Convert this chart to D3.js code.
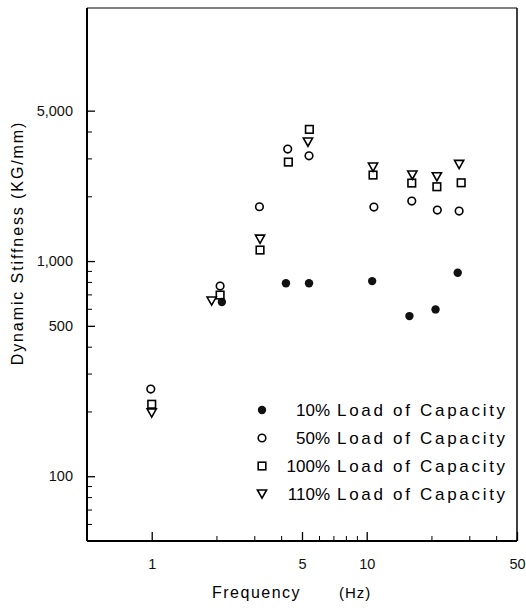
<!DOCTYPE html>
<html><head><meta charset="utf-8">
<script src="https://cdn.jsdelivr.net/npm/d3@7"></script>
<style>body{margin:0;background:#fff}svg{display:block}</style>
</head><body>
<script>
// ---- data ----
const seriesNames = ["10% Load of Capacity","50% Load of Capacity","100% Load of Capacity","110% Load of Capacity"];
const seriesPct = ["10%","50%","100%","110%"];
const seriesShapes = ["filled","circle","square","triangle"];
const load10  = [[2.12,645],[4.21,788],[5.39,788],[10.6,807],[15.8,555],[20.9,596],[26.5,882]];
const load50  = [[0.99,254],[2.08,765],[3.17,1788],[4.29,3315],[5.39,3085],[10.8,1782],[16.2,1900],[21.3,1726],[26.9,1707]];
const load100 = [[1.0,216],[2.08,695],[3.19,1125],[4.32,2884],[5.41,4093],[10.7,2510],[16.2,2304],[21.2,2215],[27.5,2311]];
const load110 = [[1.0,197],[1.90,652],[3.19,1265],[5.33,3573],[10.7,2734],[16.3,2510],[21.2,2465],[26.9,2814]];
const xTickLabels = [1,5,10,50];
const yTickLabels = [100,500,1000,5000];
const xMinor = [2,3,4,6,7,8,9,20,30,40];
const yMinor = [60,70,80,90,200,300,400,600,700,800,900,2000,3000,4000];

const W=526,H=608;
const L=87,R=517,T=8,B=541;
const svg=d3.select("body").append("svg").attr("width",W).attr("height",H);
const x=d3.scaleLog().domain([0.5,50]).range([L,R]);
const y=d3.scaleLog().domain([50,15000]).range([B,T]);
const font="'Liberation Sans', Arial, sans-serif";

// frame
svg.append("line").attr("x1",L).attr("x2",L).attr("y1",T).attr("y2",B).attr("stroke","#000").attr("stroke-width",2);
svg.append("line").attr("x1",L).attr("x2",R).attr("y1",B).attr("y2",B).attr("stroke","#000").attr("stroke-width",2);
svg.append("line").attr("x1",L).attr("x2",R).attr("y1",T).attr("y2",T).attr("stroke","#000").attr("stroke-width",1.2);
svg.append("line").attr("x1",R).attr("x2",R).attr("y1",T).attr("y2",B).attr("stroke","#000").attr("stroke-width",1.5);

// y axis (ticks inward)
const yAxisMajor=d3.axisLeft(y).tickValues(yTickLabels).tickSize(-8).tickPadding(14)
  .tickFormat(d=>d3.format(",")(d));
const gy=svg.append("g").attr("transform",`translate(${L},0)`).call(yAxisMajor);
gy.select(".domain").remove();
gy.selectAll("text").attr("font-family",font).attr("font-size",14.5).attr("fill","#111");
gy.selectAll("line").attr("stroke-width",1.3);
const gym=svg.append("g").attr("transform",`translate(${L},0)`).call(d3.axisLeft(y).tickValues(yMinor).tickSize(-5).tickFormat(""));
gym.select(".domain").remove();
gym.selectAll("line").attr("stroke-width",1);

// x axis (ticks inward)
const gx=svg.append("g").attr("transform",`translate(0,${B})`).call(
  d3.axisBottom(x).tickValues(xTickLabels).tickSize(-9).tickPadding(18).tickFormat(d3.format("d")));
gx.select(".domain").remove();
gx.selectAll("text").attr("font-family",font).attr("font-size",14.5).attr("fill","#111");
gx.selectAll("line").attr("stroke-width",1.3);
const gxm=svg.append("g").attr("transform",`translate(0,${B})`).call(d3.axisBottom(x).tickValues(xMinor).tickSize(-5).tickFormat(""));
gxm.select(".domain").remove();

// axis titles
svg.append("text").attr("transform","translate(23,243) rotate(-90)").attr("text-anchor","middle")
  .attr("font-family",font).attr("font-size",16).attr("letter-spacing",1.9).text("Dynamic Stiffness  (KG/mm)");
svg.append("text").attr("x",212).attr("y",598).attr("font-family",font).attr("font-size",16).attr("letter-spacing",1.5).text("Frequency");
svg.append("text").attr("x",339).attr("y",598).attr("font-family",font).attr("font-size",15).attr("letter-spacing",1).text("(Hz)");

// markers
function marker(g,shape,cx,cy){
  if(shape==="filled") g.append("circle").attr("cx",cx).attr("cy",cy).attr("r",4.2).attr("fill","#111");
  else if(shape==="circle") g.append("circle").attr("cx",cx).attr("cy",cy).attr("r",3.8).attr("fill","none").attr("stroke","#000").attr("stroke-width",1.6);
  else if(shape==="square") g.append("rect").attr("x",cx-3.8).attr("y",cy-3.8).attr("width",7.6).attr("height",7.6).attr("fill","none").attr("stroke","#000").attr("stroke-width",1.6);
  else g.append("path").attr("d",`M${cx-4.6},${cy-4}L${cx+4.6},${cy-4}L${cx},${cy+4.2}Z`).attr("fill","none").attr("stroke","#000").attr("stroke-width",1.6);
}
const all=[load10,load50,load100,load110];
const gp=svg.append("g");
all.forEach((s,i)=>s.forEach(d=>marker(gp,seriesShapes[i],x(d[0]),y(d[1]))));

// legend
const lg=svg.append("g");
seriesNames.forEach((n,i)=>{
  const yy=410+i*28;
  marker(lg,seriesShapes[i],262,yy);
  lg.append("text").attr("x",330).attr("y",yy+6).attr("text-anchor","end").attr("font-family",font).attr("font-size",17).text(seriesPct[i]);
  lg.append("text").attr("x",337).attr("y",yy+6).attr("font-family",font).attr("font-size",17).attr("letter-spacing",2.7).text(n.replace(seriesPct[i]+" ",""));
});
</script>
</body></html>
